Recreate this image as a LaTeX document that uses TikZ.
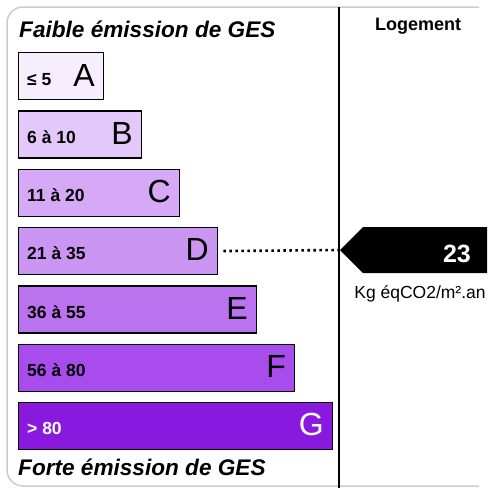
\documentclass[tikz,border=0pt]{standalone}
\usepackage{fontspec}
\setmainfont{Liberation Sans}
\definecolor{gA}{HTML}{F6EDFD}
\definecolor{gB}{HTML}{E4C7FB}
\definecolor{gC}{HTML}{D5A9F6}
\definecolor{gD}{HTML}{CB95F3}
\definecolor{gE}{HTML}{BA72EF}
\definecolor{gF}{HTML}{A94CEE}
\definecolor{gG}{HTML}{8A19DF}
\begin{document}
\begin{tikzpicture}[x=1pt,y=-1pt,
  bar/.style={draw=black,line width=1.3pt,rectangle,inner sep=0pt,anchor=north west,minimum height=47pt},
  rng/.style={inner sep=0pt,font=\fontsize{17.5}{20}\selectfont\bfseries},
  letter/.style={inner sep=0pt,font=\fontsize{32}{36}\selectfont},
  title/.style={inner sep=0pt,anchor=base west,font=\fontsize{22.6}{26}\selectfont\bfseries\itshape},
  frame/.style={draw=gray!40,line width=1.5pt,rounded corners=16pt},
  dotline/.style={line width=2.6pt,dash pattern=on 2.6pt off 3.4pt}]
\useasboundingbox (0,0) rectangle (494,488);
\draw[frame] (479,7) -- (7,7) -- (7,486) -- (479,486);
\draw[line width=1.2pt] (339,7) -- (339,488);
\node[title] (top) at (19,37.5) {Faible émission de GES};
\node[title] (bottom) at (18,475) {Forte émission de GES};
\node[inner sep=0pt,anchor=base,font=\fontsize{18}{22}\selectfont\bfseries] (logement) at (418,30) {Logement};
\foreach \L/\r/\w/\c/\tc [count=\i from 0] in {A/≤ 5/85/gA/black, B/6 à 10/123/gB/black, C/11 à 20/161/gC/black, D/21 à 35/199/gD/black, E/36 à 55/238/gE/black, F/56 à 80/276/gF/black, G/> 80/314/gG/white}{
  \pgfmathsetmacro\ytop{52+58.3*\i}
  \node[bar,fill=\c,minimum width=\w pt] (bar\L) at (18,\ytop) {};
  \node[rng,text=\tc,anchor=base west] (rng\L) at (27,\ytop+33) {\r};
  \node[letter,text=\tc,anchor=base east] (let\L) at (18+\w-8,\ytop+34) {\L};
}
\coordinate (tip) at (340,250);
\fill[black] (tip) -- (363,227) -- (487,227) -- (487,273) -- (363,273) -- cycle;
\node[inner sep=0pt,anchor=base east,text=white,font=\fontsize{25}{28}\selectfont\bfseries] (val) at (471,262) {23};
\node[inner sep=0pt,anchor=base,font=\fontsize{17.5}{21}\selectfont] (unit) at (420,298) {Kg éqCO2/m².an};
\draw[dotline] ([xshift=5pt]barD.east) -- (tip);
\end{tikzpicture}
\end{document}
